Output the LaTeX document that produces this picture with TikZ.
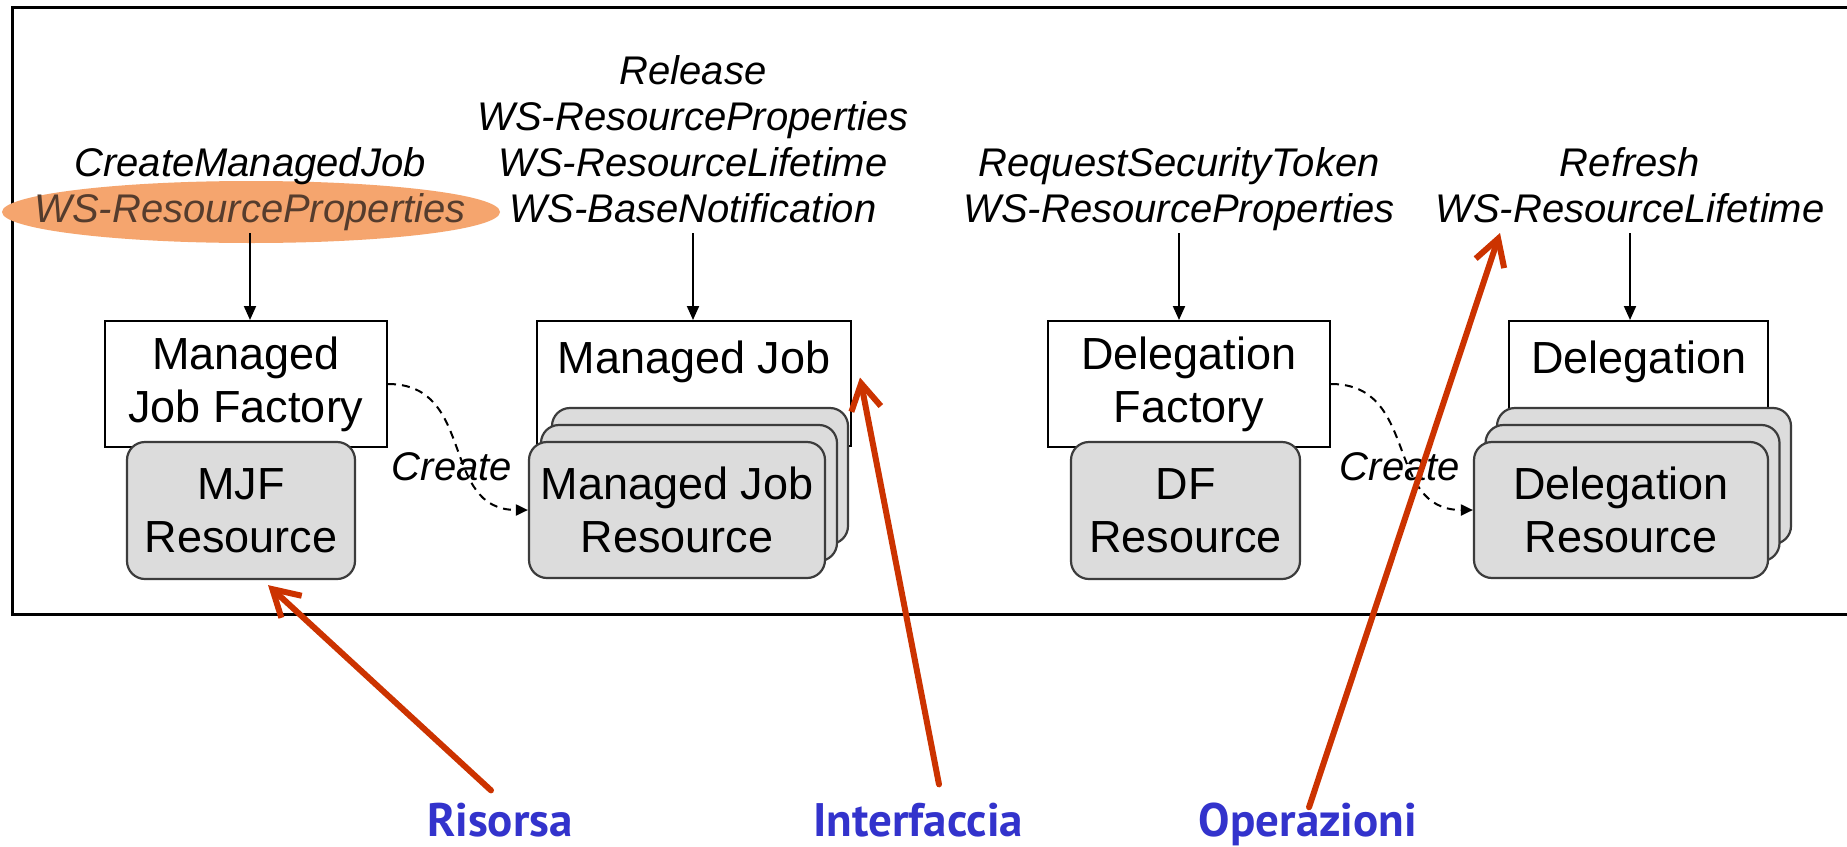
\documentclass[tikz,border=0pt]{standalone}
\usepackage{fontspec}
\setmainfont{Liberation Sans}
\newfontfamily\labfont{PT Sans}
\usetikzlibrary{arrows.meta,shapes.geometric,calc}
\definecolor{redarr}{RGB}{204,51,0}
\definecolor{bluelab}{RGB}{51,51,204}
\definecolor{resgray}{RGB}{220,220,220}
\definecolor{resedge}{RGB}{60,60,60}
\definecolor{hlorange}{RGB}{245,165,110}
\definecolor{hltext}{RGB}{85,60,45}
\begin{document}
\begin{tikzpicture}[x=1pt,y=-1pt,
  opfont/.style={font=\fontsize{40}{46}\selectfont\itshape},
  boxfont/.style={font=\fontsize{45}{53}\selectfont},
  oplist/.style={opfont, align=center, inner sep=0pt, text depth=0pt, anchor=south},
  iface/.style={draw=black, line width=2pt, fill=white, rectangle, inner sep=0pt},
  res/.style={draw=resedge, line width=2.2pt, fill=resgray, rounded corners=18pt, rectangle, inner sep=0pt, boxfont, align=center},
  callarr/.style={line width=2pt, -{Triangle[length=14pt,width=12pt]}},
  createarr/.style={line width=2pt, dash pattern=on 8pt off 6pt, -{Triangle[length=12pt,width=11pt]}},
  note/.style={draw=redarr, line width=6pt, line cap=round, line join=round, -{Straight Barb[length=26pt,width=30pt]}},
  lab/.style={font=\labfont\bfseries\fontsize{47}{50}\selectfont, text=bluelab, anchor=base, inner sep=0pt}
]
\useasboundingbox (0,0) rectangle (1847,846);
\fill[white] (0,0) rectangle (1847,846);
% frame
\draw[line width=3pt] (1860,7) -- (12,7) -- (12,614) -- (1860,614);

% group 1
\node[ellipse, fill=hlorange, minimum width=498pt, minimum height=62pt, inner sep=0pt] (hl) at (251,212) {};
\node[oplist] (op1) at (250,223) {CreateManagedJob\\\textcolor{hltext}{WS-ResourceProperties}};
\node[iface, boxfont, align=center, minimum width=282pt, minimum height=126pt] (mjf) at (246,384) {Managed\\Job Factory};
\node[res, minimum width=228pt, minimum height=137pt] (mjfr) at (241,510.5) {MJF\\Resource};
\draw[callarr, shorten <=10pt] (op1.south) -- (op1.south |- mjf.north);

% group 2
\node[oplist] (op2) at (693,223) {Release\\WS-ResourceProperties\\WS-ResourceLifetime\\WS-BaseNotification};
\node[iface, minimum width=314pt, minimum height=125pt] (mj) at (694,383.5) {};
\node[boxfont, anchor=base, inner sep=0pt] (mjt) at (694,373) {Managed Job};
\node[res, minimum width=296pt, minimum height=136pt] (mjr3) at (700,476) {};
\node[res, minimum width=296pt, minimum height=136pt] (mjr2) at (689,493) {};
\node[res, minimum width=296pt, minimum height=136pt] (mjr) at (677,510) {Managed Job\\Resource};
\draw[callarr, shorten <=10pt] (op2.south) -- (op2.south |- mj.north);

% group 3
\node[oplist] (op3) at (1179,223) {RequestSecurityToken\\WS-ResourceProperties};
\node[iface, boxfont, align=center, minimum width=282pt, minimum height=126pt] (df) at (1189,384) {Delegation\\Factory};
\node[res, minimum width=229pt, minimum height=137pt] (dfr) at (1185.5,510.5) {DF\\Resource};
\draw[callarr, shorten <=10pt] (op3.south) -- (op3.south |- df.north);

% group 4
\node[oplist] (op4) at (1630,223) {Refresh\\WS-ResourceLifetime};
\node[iface, minimum width=259pt, minimum height=125pt] (dl) at (1638.5,383.5) {};
\node[boxfont, anchor=base, inner sep=0pt] (dlt) at (1639,373) {Delegation};
\node[res, minimum width=294pt, minimum height=136pt] (dlr3) at (1644,476) {};
\node[res, minimum width=294pt, minimum height=136pt] (dlr2) at (1632.5,493) {};
\node[res, minimum width=294pt, minimum height=136pt] (dlr) at (1621,510) {Delegation\\Resource};
\draw[callarr, shorten <=10pt] (op4.south) -- (op4.south |- dl.north);

% create arrows
\draw[createarr] (mjf.east) to[out=0,in=180,looseness=1.2] (mjr.west);
\node[opfont, anchor=base, inner sep=0pt] (cr1) at (452,480) {Create};
\draw[createarr] (df.east) to[out=0,in=180,looseness=1.2] (dlr.west);
\node[opfont, anchor=base, inner sep=0pt] (cr2) at (1400,480) {Create};

% annotations
\node[lab] (risorsa) at (500,836) {Risorsa};
\node[lab] (interf) at (918,836) {Interfaccia};
\node[lab] (operaz) at (1308,836) {Operazioni};
\draw[note] ($(risorsa.north)+(-9,-12)$) -- ($(mjfr.south)+(27,5)$);
\draw[note] ($(interf.north)+(21,-18)$) -- ($(mj.east)+(8,-6)$);
\draw[note] ($(operaz.north)+(1,5)$) -- ($(op4.south)+(-130,10)$);
\end{tikzpicture}
\end{document}
